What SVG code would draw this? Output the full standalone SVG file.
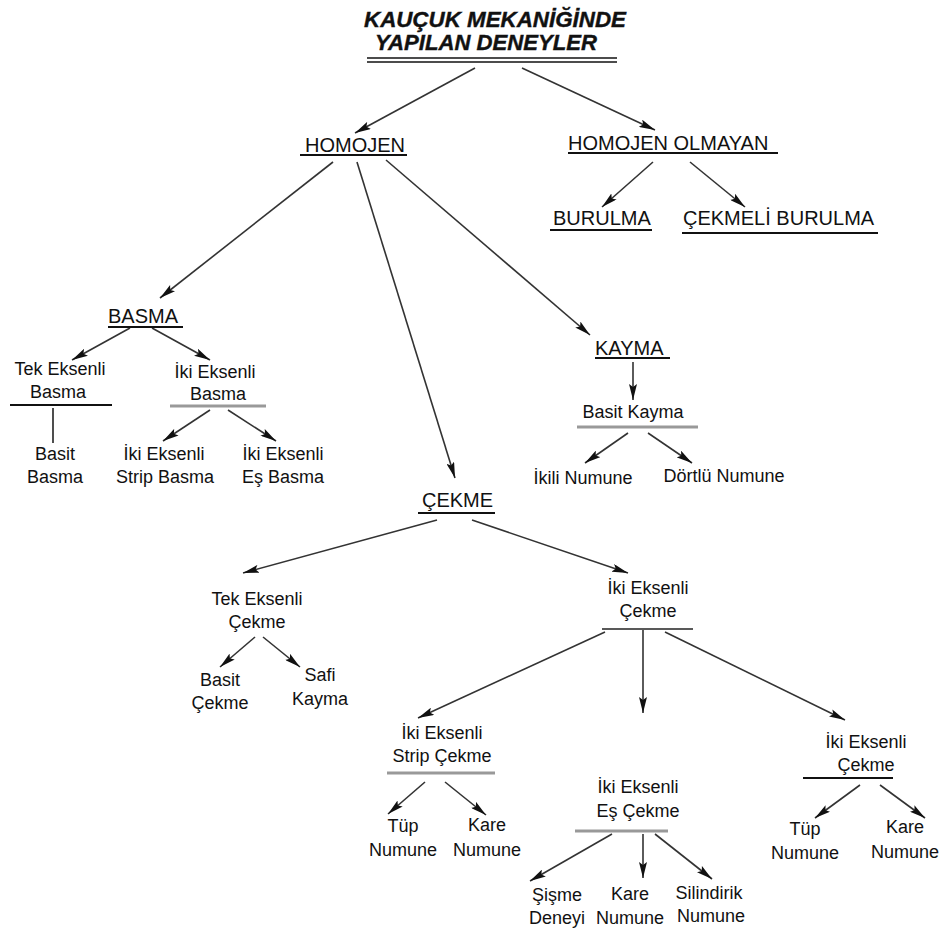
<svg xmlns="http://www.w3.org/2000/svg" width="940" height="939" viewBox="0 0 940 939">
<defs>
<marker id="ah" viewBox="0 0 16 8" refX="16" refY="4" markerWidth="16" markerHeight="8" markerUnits="userSpaceOnUse" orient="auto">
<path d="M0,0 L16,4 L0,8 L3,4 Z" fill="#111"/>
</marker>
<style>
text{font-family:"Liberation Sans",Arial,sans-serif;fill:#111}
.t{font-size:22px;font-weight:bold;font-style:italic;stroke:#111;stroke-width:0.4}
.c{font-size:20px}
.s{font-size:18px;text-anchor:middle}
.a{stroke:#333;stroke-width:1.6;fill:none;marker-end:url(#ah)}
.p{stroke:#222;stroke-width:1.6}
.u{stroke:#111;stroke-width:2}
.g{stroke:#999;stroke-width:3}
</style>
</defs>
<rect width="940" height="939" fill="#fff"/>
<g id="connectors">
<line class="a" x1="475" y1="68" x2="355" y2="133"/>
<line class="a" x1="522" y1="68" x2="655" y2="130"/>
<line class="a" x1="653" y1="162" x2="602" y2="207"/>
<line class="a" x1="690" y1="162" x2="745" y2="207"/>
<line class="a" x1="333" y1="162" x2="160" y2="298"/>
<line class="a" x1="357" y1="162" x2="455" y2="478"/>
<line class="a" x1="386" y1="160" x2="590" y2="335"/>
<line class="a" x1="130" y1="328" x2="72" y2="360"/>
<line class="a" x1="152" y1="328" x2="210" y2="360"/>
<line class="p" x1="53" y1="408" x2="53" y2="443"/>
<line class="a" x1="210" y1="410" x2="163" y2="441"/>
<line class="a" x1="228" y1="410" x2="276" y2="441"/>
<line class="a" x1="633" y1="362" x2="633" y2="400"/>
<line class="a" x1="628" y1="433" x2="585" y2="463"/>
<line class="a" x1="648" y1="433" x2="692" y2="463"/>
<line class="a" x1="437" y1="520" x2="243" y2="573"/>
<line class="a" x1="472" y1="520" x2="628" y2="573"/>
<line class="a" x1="255" y1="637" x2="220" y2="667"/>
<line class="a" x1="263" y1="637" x2="300" y2="667"/>
<line class="a" x1="605" y1="632" x2="418" y2="718"/>
<line class="a" x1="643" y1="630" x2="643" y2="713"/>
<line class="a" x1="665" y1="632" x2="845" y2="720"/>
<line class="a" x1="425" y1="782" x2="388" y2="814"/>
<line class="a" x1="445" y1="782" x2="486" y2="815"/>
<line class="a" x1="612" y1="834" x2="530" y2="881"/>
<line class="a" x1="643" y1="834" x2="643" y2="878"/>
<line class="a" x1="655" y1="834" x2="712" y2="879"/>
<line class="a" x1="860" y1="785" x2="815" y2="818"/>
<line class="a" x1="880" y1="785" x2="925" y2="818"/>
</g>
<g id="title">
<text class="t" x="364" y="27" textLength="262" lengthAdjust="spacingAndGlyphs">KAUÇUK MEKANİĞİNDE</text>
<text class="t" x="375" y="50" textLength="222" lengthAdjust="spacingAndGlyphs">YAPILAN DENEYLER</text>
<line stroke="#111" stroke-width="1.5" x1="367" y1="58" x2="617" y2="58"/>
<line stroke="#111" stroke-width="1.5" x1="367" y1="62" x2="617" y2="62"/>
</g>
<g id="homojen">
<text class="c" x="305" y="152">HOMOJEN</text>
<line class="u" x1="300" y1="155" x2="407" y2="155"/>
</g>
<g id="homojen-olmayan">
<text class="c" x="568" y="150">HOMOJEN OLMAYAN</text>
<line class="u" x1="568" y1="153" x2="778" y2="153"/>
</g>
<g id="burulma">
<text class="c" x="553" y="225">BURULMA</text>
<line class="u" x1="550" y1="230" x2="652" y2="230"/>
</g>
<g id="cekmeli-burulma">
<text class="c" x="683" y="225">ÇEKMELİ BURULMA</text>
<line class="u" x1="682" y1="233" x2="878" y2="233"/>
</g>
<g id="basma">
<text class="c" x="108" y="323">BASMA</text>
<line class="u" x1="108" y1="327" x2="183" y2="327"/>
</g>
<g id="tek-eksenli-basma">
<text class="s" x="60" y="375">Tek Eksenli</text>
<text class="s" x="58" y="398">Basma</text>
<line class="u" x1="10" y1="405" x2="112" y2="405"/>
</g>
<g id="basit-basma">
<text class="s" x="55" y="460">Basit</text>
<text class="s" x="55" y="483">Basma</text>
</g>
<g id="iki-eksenli-basma">
<text class="s" x="215" y="378">İki Eksenli</text>
<text class="s" x="218" y="400">Basma</text>
<line class="g" x1="170" y1="406" x2="266" y2="406"/>
</g>
<g id="iki-eksenli-strip-basma">
<text class="s" x="164" y="460">İki Eksenli</text>
<text class="s" x="165" y="483">Strip Basma</text>
</g>
<g id="iki-eksenli-es-basma">
<text class="s" x="283" y="460">İki Eksenli</text>
<text class="s" x="283" y="483">Eş Basma</text>
</g>
<g id="kayma">
<text class="c" x="595" y="355">KAYMA</text>
<line class="u" x1="595" y1="358" x2="670" y2="358"/>
</g>
<g id="basit-kayma">
<text class="s" x="633" y="418">Basit Kayma</text>
<line class="g" x1="577" y1="427" x2="698" y2="427"/>
</g>
<g id="ikili-numune">
<text class="s" x="583" y="484">İkili Numune</text>
</g>
<g id="dortlu-numune">
<text class="s" x="724" y="482">Dörtlü Numune</text>
</g>
<g id="cekme">
<text class="c" x="422" y="507">ÇEKME</text>
<line class="u" x1="418" y1="513" x2="495" y2="513"/>
</g>
<g id="tek-eksenli-cekme">
<text class="s" x="257" y="605">Tek Eksenli</text>
<text class="s" x="257" y="628">Çekme</text>
</g>
<g id="basit-cekme">
<text class="s" x="220" y="686">Basit</text>
<text class="s" x="220" y="709">Çekme</text>
</g>
<g id="safi-kayma">
<text class="s" x="320" y="681">Safi</text>
<text class="s" x="320" y="705">Kayma</text>
</g>
<g id="iki-eksenli-cekme">
<text class="s" x="648" y="594">İki Eksenli</text>
<text class="s" x="648" y="617">Çekme</text>
<line class="p" x1="602" y1="629" x2="693" y2="629" stroke-width="1.5"/>
</g>
<g id="iki-eksenli-strip-cekme">
<text class="s" x="442" y="739">İki Eksenli</text>
<text class="s" x="442" y="762">Strip Çekme</text>
<line class="g" x1="387" y1="773" x2="495" y2="773"/>
</g>
<g id="tup-numune-1">
<text class="s" x="403" y="832">Tüp</text>
<text class="s" x="403" y="856">Numune</text>
</g>
<g id="kare-numune-1">
<text class="s" x="487" y="831">Kare</text>
<text class="s" x="487" y="856">Numune</text>
</g>
<g id="iki-eksenli-es-cekme">
<text class="s" x="638" y="793">İki Eksenli</text>
<text class="s" x="638" y="817">Eş Çekme</text>
<line class="g" x1="575" y1="831" x2="668" y2="831"/>
</g>
<g id="sisme-deneyi">
<text class="s" x="557" y="901">Şişme</text>
<text class="s" x="557" y="924">Deneyi</text>
</g>
<g id="kare-numune-2">
<text class="s" x="630" y="900">Kare</text>
<text class="s" x="630" y="924">Numune</text>
</g>
<g id="silindirik-numune">
<text class="s" x="709" y="899">Silindirik</text>
<text class="s" x="711" y="922">Numune</text>
</g>
<g id="iki-eksenli-cekme-2">
<text class="s" x="866" y="748">İki Eksenli</text>
<text class="s" x="866" y="771">Çekme</text>
<line class="u" x1="803" y1="778" x2="893" y2="778"/>
</g>
<g id="tup-numune-2">
<text class="s" x="805" y="835">Tüp</text>
<text class="s" x="805" y="859">Numune</text>
</g>
<g id="kare-numune-3">
<text class="s" x="905" y="833">Kare</text>
<text class="s" x="905" y="858">Numune</text>
</g>
</svg>
